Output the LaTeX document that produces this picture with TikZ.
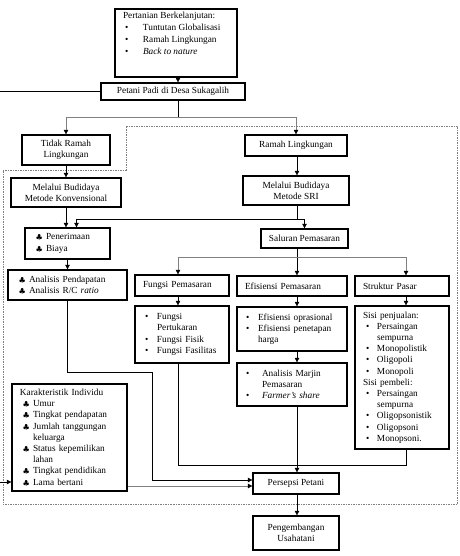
\documentclass[tikz,border=0pt]{standalone}
\usepackage{amsmath,amssymb}
\usepackage{fontspec}
\setmainfont{Liberation Serif}
\usetikzlibrary{arrows.meta,calc}

% list item: indent, symbol box width, symbol
\newcommand{\itm}[3]{\hspace*{#1pt}\makebox[#2pt][l]{#3}}
\newcommand{\clb}{{\scriptsize$\clubsuit$}}

\tikzset{
  box/.style={draw, line width=1.3pt, inner xsep=0pt, inner ysep=2pt,
    font=\fontsize{9.3}{11.2}\selectfont},
  lbox/.style={box, align=left},
  cbox/.style={box, align=center},
  conn/.style={line width=0.6pt},
  arr/.style={conn, -{Triangle[length=4.5pt,width=4.5pt,color=black]}},
  garr/.style={arr, gray},
  fence/.style={gray, line width=0.5pt, dash pattern=on 1.5pt off 1pt}
}

\begin{document}
\begin{tikzpicture}[x=1pt, y=-1pt]
  \useasboundingbox (0,0) rectangle (459,556);

  % dashed frame
  \draw[fence] (126,126) -- (457.5,126) -- (457.5,504) -- (3,504) -- (3,170) -- (126,170) -- cycle;

  % top
  \node[box, minimum width=122pt, minimum height=68pt, inner ysep=0pt] (top) at (176,43)
    {\parbox[c][68pt][t]{122pt}{\fontsize{9.3}{12}\selectfont\vspace*{3pt}
     \hspace*{8pt}Pertanian Berkelanjutan:\\
     \itm{10}{18}{\textbullet}Tuntutan Globalisasi\\
     \itm{10}{18}{\textbullet}Ramah Lingkungan\\
     \itm{10}{18}{\textbullet}\textit{Back to nature}}};
  \node[cbox, minimum width=144pt, minimum height=17pt] (petani) at (173,91.5) {Petani Padi di Desa Sukagalih};

  % left branch
  \node[cbox, minimum width=88pt, minimum height=30pt] (tidak) at (66,150) {Tidak Ramah\\Lingkungan};
  \node[cbox, minimum width=110pt, minimum height=29pt] (konv) at (66,192.5) {Melalui Budidaya\\Metode Konvensional};
  \node[lbox, text width=85pt, minimum height=31pt] (terima) at (67.5,243.5)
    {\itm{11}{10}{\clb}Penerimaan\\
     \itm{11}{10}{\clb}Biaya};
  \node[lbox, text width=119pt, minimum height=30pt] (analisis) at (67.5,285)
    {\itm{11}{10}{\clb}Analisis Pendapatan\\
     \itm{11}{10}{\clb}Analisis R/C \textit{ratio}};
  \node[lbox, text width=115pt, minimum height=107pt] (karakter) at (69.5,437.5)
    {\hspace*{8pt}Karakteristik Individu\\
     \itm{11}{10}{\clb}Umur\\
     \itm{11}{10}{\clb}Tingkat pendapatan\\
     \itm{11}{10}{\clb}Jumlah tanggungan\\
     \hspace*{21pt}keluarga\\
     \itm{11}{10}{\clb}Status kepemilikan\\
     \hspace*{21pt}lahan\\
     \itm{11}{10}{\clb}Tingkat pendidikan\\
     \itm{11}{10}{\clb}Lama bertani};

  % right branch
  \node[cbox, minimum width=102pt, minimum height=21pt] (ramah) at (296,145.5) {Ramah Lingkungan};
  \node[cbox, minimum width=106pt, minimum height=29pt] (sri) at (296,190.5) {Melalui Budidaya\\Metode SRI};
  \node[cbox, minimum width=87pt, minimum height=19pt] (saluran) at (304.5,238.5) {Saluran Pemasaran};

  % marketing
  \node[lbox, text width=94pt, minimum height=21pt] (fungsi) at (182,285.5) {\hspace*{8pt}Fungsi Pemasaran};
  \node[lbox, text width=110pt, minimum height=20pt] (efisiensi) at (292,286) {\hspace*{8pt}Efisiensi Pemasaran};
  \node[lbox, text width=94pt, minimum height=20pt] (struktur) at (402,286) {\hspace*{8pt}Struktur Pasar};
  \node[lbox, text width=94pt, minimum height=57pt] (fungsil) at (182,334.5)
    {\itm{10}{12}{\textbullet}Fungsi\\
     \hspace*{22pt}Pertukaran\\
     \itm{10}{12}{\textbullet}Fungsi Fisik\\
     \itm{10}{12}{\textbullet}Fungsi Fasilitas};
  \node[lbox, text width=110pt, minimum height=44pt] (efisiensil) at (292,329)
    {\itm{9}{12}{\textbullet}Efisiensi oprasional\\
     \itm{9}{12}{\textbullet}Efisiensi penetapan\\
     \hspace*{21pt}harga};
  \node[lbox, text width=110pt, minimum height=43pt] (marjin) at (292,384.5)
    {\itm{9}{16}{\textbullet}Analisis Marjin\\
     \hspace*{25pt}Pemasaran\\
     \itm{9}{16}{\textbullet}\textit{Farmer's share}};
  \node[lbox, text width=94pt, minimum height=143pt] (strukturl) at (402,377.5)
    {\hspace*{8pt}Sisi penjualan:\\
     \itm{11}{11}{\textbullet}Persaingan\\
     \hspace*{22pt}sempurna\\
     \itm{11}{11}{\textbullet}Monopolistik\\
     \itm{11}{11}{\textbullet}Oligopoli\\
     \itm{11}{11}{\textbullet}Monopoli\\
     \hspace*{8pt}Sisi pembeli:\\
     \itm{11}{11}{\textbullet}Persaingan\\
     \hspace*{22pt}sempurna\\
     \itm{11}{11}{\textbullet}Oligopsonistik\\
     \itm{11}{11}{\textbullet}Oligopsoni\\
     \itm{11}{11}{\textbullet}Monopsoni.};

  % bottom
  \node[cbox, minimum width=86pt, minimum height=21pt] (persepsi) at (296,483.5) {Persepsi Petani};
  \node[cbox, minimum width=86pt, minimum height=34pt] (kembang) at (296,533) {Pengembangan\\Usahatani};

  % junctions
  \coordinate (cA) at (178,0);
  \coordinate (cB) at (297,0);
  \coordinate (cC) at (406,0);
  \coordinate (j1) at (178,117);
  \coordinate (j2) at (297,219);
  \coordinate (j3) at (297,257);
  \coordinate (j4) at (152,372);
  \coordinate (j5) at (152,480);
  \coordinate (j6) at (0,486);
  \coordinate (j7) at (297,465);
  \coordinate (lft) at (0,91.5);
  \coordinate (kin) at (0,482);

  % connectors
  \draw[arr] (top.south -| cA) -- (petani.north -| cA);
  \draw[conn] (petani.west) -- (lft);
  \draw[conn] (petani.south -| j1) -- (j1);
  \draw[garr] (j1) -| (tidak.north);
  \draw[garr] (j1) -| (ramah.north);
  \draw[arr] (tidak.south) -- (konv.north);
  \draw[arr] (konv.south) -- (konv.south |- terima.north);
  \draw[arr] (ramah.south -| cB) -- (sri.north -| cB);
  \draw[conn] (sri.south -| cB) -- (j2);
  \draw[arr] (j2) -| ($(terima.north)+(9,0)$);
  \draw[arr] (j2) -| (saluran.north);
  \draw[arr] (terima.south) -- (terima.south |- analisis.north);
  \draw[conn] (saluran.south -| j3) -- (j3);
  \draw[garr] (j3) -| (fungsi.north -| cA);
  \draw[arr] (j3) -- (efisiensi.north -| cB);
  \draw[garr] (j3) -| (struktur.north -| cC);
  \draw[arr] (fungsi.south -| cA) -- (fungsil.north -| cA);
  \draw[arr] (efisiensi.south -| cB) -- (efisiensil.north -| cB);
  \draw[arr] (efisiensil.south -| cB) -- (marjin.north -| cB);
  \draw[arr] (struktur.south -| cC) -- (strukturl.north -| cC);
  \draw[arr] (analisis.south) |- (j4) -- (j5) -- (j5 -| persepsi.west);
  \draw[garr] (karakter.east |- j6) -- (persepsi.west |- j6);
  \draw[conn] (fungsil.south -| cA) |- (j7);
  \draw[conn] (strukturl.south -| cC) |- (j7);
  \draw[arr] (marjin.south -| cB) -- (persepsi.north -| cB);
  \draw[arr] (persepsi.south -| cB) -- (kembang.north -| cB);
  \draw[arr] (kin) -- (kin -| karakter.west);
\end{tikzpicture}
\end{document}
